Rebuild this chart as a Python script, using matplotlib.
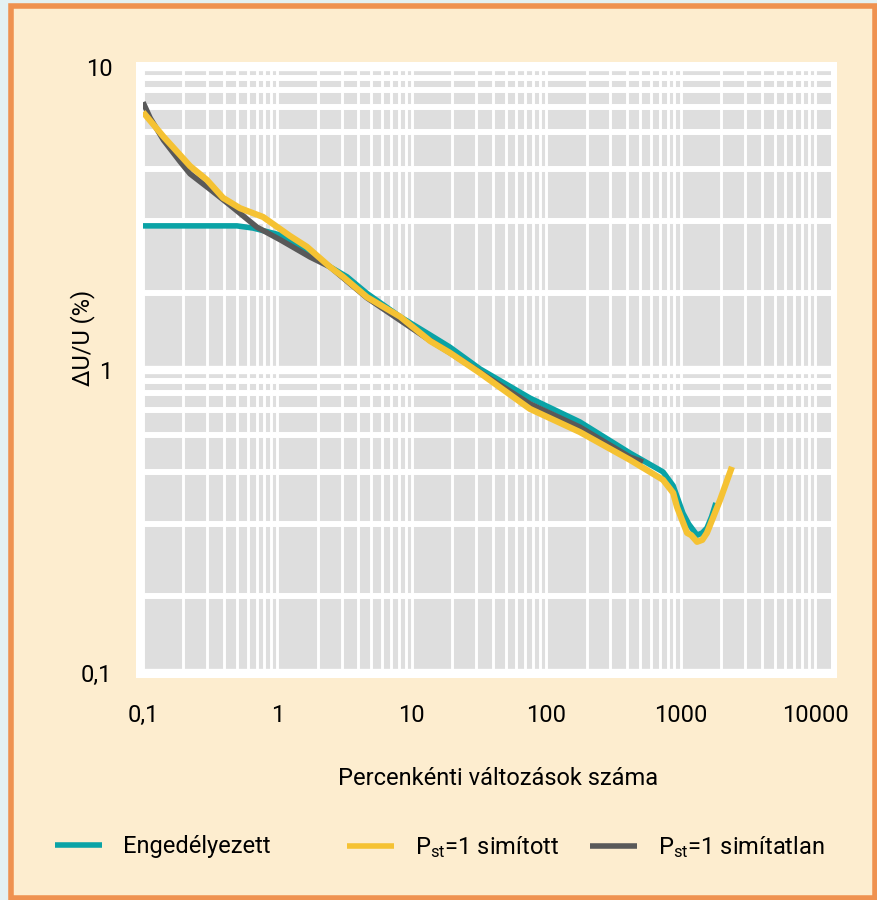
import matplotlib
matplotlib.use("Agg")
import matplotlib.pyplot as plt
from matplotlib.patches import Rectangle
from matplotlib.lines import Line2D
from matplotlib.ticker import FixedLocator, LogLocator, NullFormatter

plt.rcParams["font.family"] = ["Roboto", "DejaVu Sans"]
plt.rcParams["mathtext.fontset"] = "custom"
plt.rcParams["mathtext.rm"] = "Roboto"
plt.rcParams["mathtext.it"] = "Roboto"

# changes per minute -> relative voltage change (%)
engedelyezett_x = [0.1, 0.3, 0.5, 0.66, 1.05, 1.55, 2.46, 3.3, 4.64, 8.17, 13.7, 19.2,
                   32.2, 75.7, 178, 420, 740, 880, 1040, 1150, 1325, 1450, 1570, 1700, 1830]
engedelyezett_y = [2.99, 2.99, 2.99, 2.94, 2.79, 2.53, 2.19, 2.03, 1.79, 1.50, 1.305, 1.19,
                   1.008, 0.808, 0.674, 0.532, 0.461, 0.415, 0.337, 0.31, 0.285, 0.29, 0.301, 0.328, 0.364]

simitott_x = [0.1, 0.142, 0.189, 0.224, 0.299, 0.394, 0.527, 0.782, 1.24, 1.66, 2.46, 3.08,
              4.64, 8.17, 13.7, 19.2, 32.2, 75.7, 178, 420, 740, 880, 940, 1117, 1200, 1325,
              1450, 1570, 1964, 2410]
simitott_y = [7.10, 5.89, 5.12, 4.71, 4.24, 3.70, 3.42, 3.20, 2.77, 2.55, 2.19, 2.03,
              1.74, 1.50, 1.246, 1.14, 0.977, 0.744, 0.624, 0.505, 0.434, 0.393, 0.353, 0.290, 0.285, 0.271,
              0.275, 0.290, 0.372, 0.479]

simitatlan_x = [0.1, 0.113, 0.142, 0.189, 0.224, 0.315, 0.444, 0.705, 1.05, 1.75, 2.46, 4.64,
                13.7, 19.2, 32.2, 75.7, 178, 420, 525]
simitatlan_y = [7.65, 6.79, 5.74, 4.87, 4.44, 3.95, 3.50, 2.96, 2.69, 2.36, 2.19, 1.73,
                1.25, 1.14, 0.983, 0.773, 0.648, 0.516, 0.497]

x_ticks = [0.1, 1, 10, 100, 1000, 10000]
x_labels = ["0,1", "1", "10", "100", "1000", "10000"]
y_ticks = [0.1, 1, 10]
y_labels = ["0,1", "1", "10"]

TEAL = "#0aa3a6"
YELLOW = "#f5c233"
GRAY = "#595959"
BEIGE = "#fdedcf"
ORANGE = "#ef9250"
FS = 17

W, H = 877, 900
fig = plt.figure(figsize=(W / 100, H / 100), dpi=100, facecolor="#e4f1f2")

# beige card with orange border
fig.add_artist(Rectangle((11 / W, 2 / H), 863.5 / W, 892.5 / H, transform=fig.transFigure,
                         facecolor=BEIGE, edgecolor=ORANGE, linewidth=4, zorder=-3))
# white frame round the plot area
fig.add_artist(Rectangle((136 / W, 222 / H), 701 / W, 616 / H, transform=fig.transFigure,
                         facecolor="white", edgecolor="none", zorder=-2))

ax = fig.add_axes([143 / W, 227 / H, 688 / W, 606 / H])
ax.set_facecolor("#dedede")
ax.set_xscale("log")
ax.set_yscale("log")
ax.set_xlim(0.1, 13150)
ax.set_ylim(0.1, 10)

for s in ax.spines.values():
    s.set_visible(False)

ax.set_xticks(x_ticks, x_labels)
ax.set_yticks(y_ticks, y_labels)
ax.xaxis.set_minor_locator(LogLocator(base=10, subs=range(2, 10)))
ax.xaxis.set_minor_formatter(NullFormatter())
y_sub = [1.8, 3.1, 4.6, 6.1, 7.4, 8.4, 9.2]
ax.yaxis.set_minor_locator(FixedLocator([d * s for d in (0.1, 1) for s in y_sub]))
ax.yaxis.set_minor_formatter(NullFormatter())

ax.set_axisbelow(True)
ax.grid(True, axis="x", which="both", color="white", linewidth=2.1)
ax.grid(True, axis="y", which="minor", color="white", linewidth=4.3)
ax.grid(True, axis="y", which="major", color="white", linewidth=6)

ax.tick_params(which="both", length=0)
ax.tick_params(axis="x", labelsize=FS, pad=22)
ax.tick_params(axis="y", labelsize=FS, pad=22)

ax.plot(engedelyezett_x, engedelyezett_y, color=TEAL, lw=4, solid_capstyle="butt", zorder=3)
ax.plot(simitatlan_x, simitatlan_y, color=GRAY, lw=4, solid_capstyle="butt", zorder=4)
ax.plot(simitott_x, simitott_y, color=YELLOW, lw=4.5, solid_capstyle="butt", zorder=5)

ax.set_xlabel("Percenkénti változások száma", fontsize=FS)
ax.xaxis.set_label_coords(0.516, -0.155)
ax.set_ylabel("ΔU/U (%)", fontsize=FS)
ax.yaxis.set_label_coords(-0.07, 0.553)

# legend entries laid out one by one
entries = [
    (TEAL, "Engedélyezett", 55),
    (YELLOW, r"P$_{\mathrm{st}}$=1 simított", 347),
    (GRAY, r"P$_{\mathrm{st}}$=1 simítatlan", 590),
]
for color, label, x0 in entries:
    h = Line2D([], [], color=color, lw=4, solid_capstyle="butt")
    fig.legend(handles=[h], labels=[label], loc="center left",
               bbox_to_anchor=(x0 / W, 53 / H), frameon=False, fontsize=FS,
               handlelength=2.0, handletextpad=0.9, borderpad=0, borderaxespad=0)

fig.savefig("out.png", dpi=100, facecolor=fig.get_facecolor())
